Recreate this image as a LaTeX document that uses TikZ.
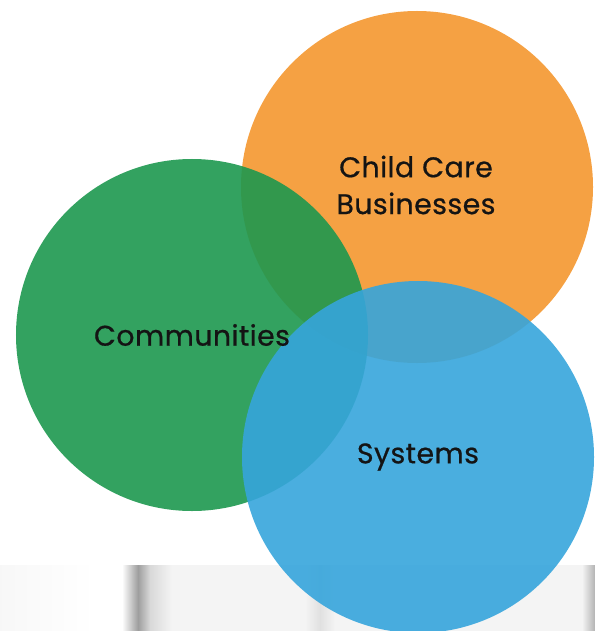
\documentclass[tikz,border=0pt]{standalone}
\usepackage{fontspec}
\setmainfont{Poppins}[FakeBold=0.6, LetterSpace=1.5]
\definecolor{orangec}{HTML}{F4972F}
\definecolor{greenc}{HTML}{1D984F}
\definecolor{bluec}{HTML}{36A5DC}
\definecolor{stripbg}{HTML}{F4F4F4}
\begin{document}
\begin{tikzpicture}[x=1bp,y=-1bp,
  disc/.style={circle, minimum size=352bp, inner sep=0pt, fill opacity=0.9},
  lbl/.style={font=\fontsize{28.5}{37}\selectfont, text=black!92, align=center, text opacity=1}]
\useasboundingbox (0,0) rectangle (595,631);
% photo strip along the bottom
\fill[stripbg] (0,565) rectangle (595,631);
\shade[left color=black!3, right color=white] (0,565) rectangle (95,631);
\fill[white] (95,565) rectangle (122,631);
\shade[left color=white, right color=black!38] (122,565) rectangle (138,631);
\shade[left color=black!38, right color=black!15] (138,565) rectangle (150,631);
\shade[left color=black!15, right color=stripbg] (150,565) rectangle (172,631);
\shade[left color=stripbg, right color=black!12] (305,565) rectangle (320,631);
\shade[left color=black!12, right color=stripbg] (320,565) rectangle (335,631);
\shade[left color=stripbg, right color=black!30] (582,565) rectangle (595,631);
% circles
\node[disc, fill=orangec] (biz) at (417,187) {};
\node[disc, fill=greenc] (comm) at (192,335) {};
\node[disc, fill=bluec] (sys) at (418,457) {};
% labels
\node[lbl] (lbiz) at (416,185) {Child Care\\Businesses};
\node[lbl] (lcomm) at (192,335) {Communities};
\node[lbl] (lsys) at (418,457) {Systems};
\end{tikzpicture}
\end{document}
